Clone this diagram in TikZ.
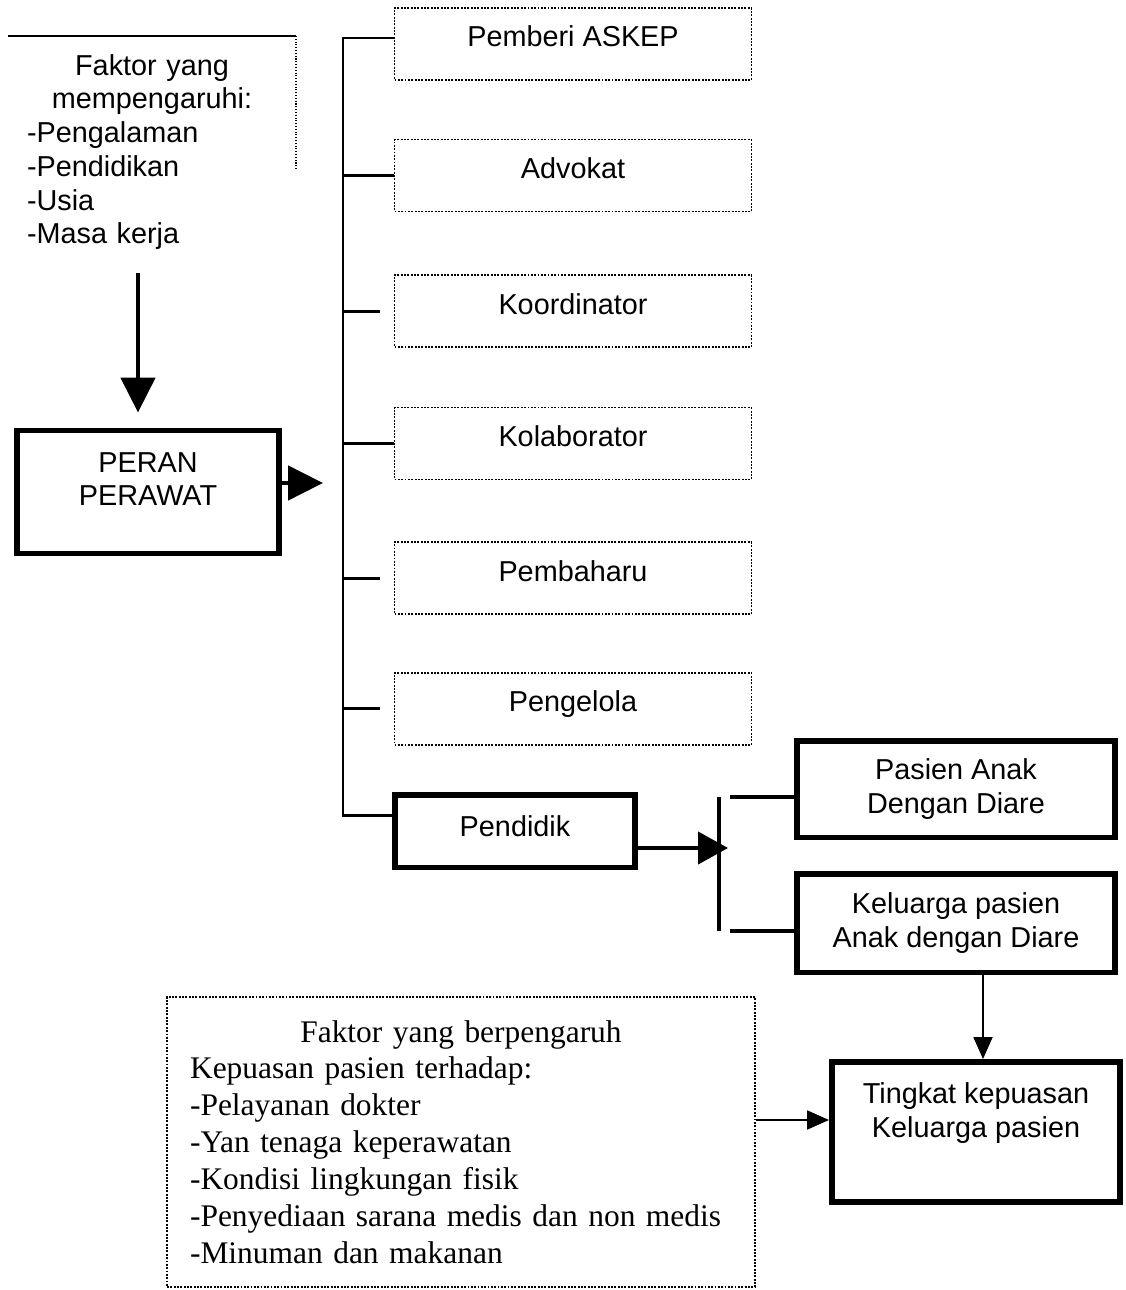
\documentclass[tikz,border=0pt]{standalone}
\usepackage{fontspec}
\setmainfont{Liberation Sans}
\newfontfamily\timesfont{Liberation Serif}
\usepackage{tikz}
\usetikzlibrary{calc,positioning,arrows.meta}

\begin{document}
\begin{tikzpicture}[x=0.02cm,y=-0.02cm,
		font=\fontsize{16.4}{19.2}\selectfont,
		dotline/.style={draw,line width=0.9pt,dash pattern=on 1.1pt off 0.8pt},
		dotbox/.style={dotline,minimum width=7.14cm,minimum height=1.44cm,inner sep=0pt,text height=0.42cm,text depth=0.3cm},
		thickbox/.style={draw,line width=3.4pt,align=center,inner sep=0pt},
		tree/.style={line width=1.7pt},
		fat/.style={line width=2.8pt,-{Triangle[length=0.7cm,width=0.68cm]}},
		slim/.style={line width=1.1pt,-{Triangle[length=0.44cm,width=0.38cm]}}]
		\useasboundingbox (0,0) rectangle (1125,1290);
		% left part
		\node(faktor) [text width=5cm,inner sep=0pt] at (152,152)
			{\centering Faktor yang\\ mempengaruhi:\par\raggedright -Pengalaman\\ -Pendidikan\\ -Usia\\ -Masa kerja\par};
		\draw[line width=0.8pt] (8,36) coordinate (ftl) -- (296,36) coordinate (ftr);
		\draw[densely dotted,line width=0.6pt] (ftr) -- (296,170);
		\node(peran) [thickbox,minimum width=5.26cm,minimum height=2.46cm,text depth=0.52cm] at (148,492) {PERAN\\PERAWAT};
		\coordinate (fend) at (138,273);
		\draw[fat,shorten >=0.3cm] (fend) -- (fend |- peran.north);
		\coordinate (ptip) at (323,483);
		\draw[fat] (peran.east |- ptip) -- (ptip);
		% roles
		\node(pem) [dotbox] at (573,44) {Pemberi ASKEP};
		\node(adv) [dotbox,below=1.16cm of pem] {Advokat};
		\node(koo) [dotbox,below=1.24cm of adv] {Koordinator};
		\node(kol) [dotbox,below=1.18cm of koo] {Kolaborator};
		\node(pbh) [dotbox,below=1.22cm of kol] {Pembaharu};
		\node(pgl) [dotbox,below=1.14cm of pbh] {Pengelola};
		\node(pend) [thickbox,minimum width=4.8cm,minimum height=1.46cm,text depth=0.2cm] at (515,831) {Pendidik};
		\coordinate (stop) at (343,38);
		\coordinate (sbot) at (343,815);
		\draw[tree] (stop -| pem.west) -- (stop) -- (sbot) -- (sbot -| pend.west);
		\foreach \n in {adv,kol}
			\draw[tree] (stop |- \n.west) -- (\n.west);
		\foreach \n in {koo,pbh,pgl}
			\draw[tree,shorten >=0.28cm] (stop |- \n.west) -- (\n.west);
		% targets
		\coordinate (jtip) at (728,848);
		\draw[fat,line width=2.4pt,-{Triangle[length=0.6cm,width=0.64cm]}] (pend.east |- jtip) -- (jtip);
		\coordinate (btop) at (719,797);
		\coordinate (bbot) at (719,931);
		\draw[line width=2.5pt] (btop) -- (bbot);
		\node(pas) [thickbox,minimum width=6.36cm,minimum height=1.94cm] at (956,789) {Pasien Anak\\Dengan Diare};
		\node(kel) [thickbox,minimum width=6.36cm,minimum height=1.98cm] at (956,923) {Keluarga pasien\\Anak dengan Diare};
		\draw[line width=2.3pt] ([xshift=0.22cm]btop) -- (btop -| pas.west);
		\draw[line width=2.3pt] ([xshift=0.22cm]bbot) -- (bbot -| kel.west);
		\node(ting) [thickbox,minimum width=5.76cm,minimum height=2.8cm] at (976,1132) {Tingkat kepuasan\\Keluarga pasien\\\strut};
		\coordinate (tn) at ($(ting.north)+(7,0)$);
		\draw[slim] (tn |- kel.south) -- (tn);
		% bottom factors
		\node(fb) [dotline,minimum width=11.76cm,minimum height=5.8cm,text width=10.84cm,inner sep=0pt,
			font=\timesfont\fontsize{17.9}{21}\selectfont] at (461,1142)
			{\centering Faktor yang berpengaruh\par\raggedright Kepuasan pasien terhadap:\\ -Pelayanan dokter\\ -Yan tenaga keperawatan\\ -Kondisi lingkungan fisik\\ -Penyediaan sarana medis dan non medis\\ -Minuman dan makanan\par\vspace{0.2cm}};
		\coordinate (tw) at ($(ting.west)+(0,-12)$);
		\draw[slim] (tw -| fb.east) -- (tw);
	\end{tikzpicture}
\end{document}
